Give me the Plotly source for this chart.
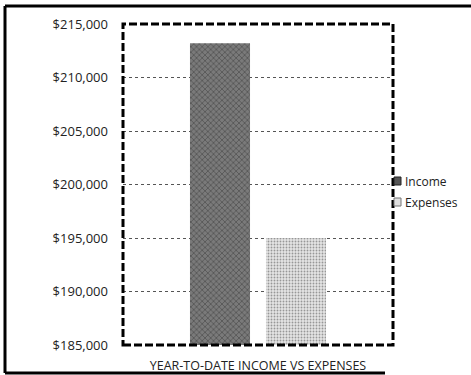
import plotly.graph_objects as go

categories = ["YEAR-TO-DATE INCOME VS EXPENSES"]
series_names = ["Income", "Expenses"]
income_values = [213200]
expenses_values = [195000]
y_ticks = [185000, 190000, 195000, 200000, 205000, 210000, 215000]

W, H = 471, 375
L, R, T, B = 123, 78, 24, 30
pw, ph = W - L - R, H - T - B

def px_x(p):
    return (p - L) / pw

def px_y(q):
    return (H - B - q) / ph

FONT = "Open Sans"

fig = go.Figure()
fig.add_trace(go.Bar(
    x=categories, y=income_values, name=series_names[0],
    marker=dict(color="#6a6a6a", line=dict(width=0),
                pattern=dict(shape="x", fgcolor="#2a2a2a", bgcolor="#7a7a7a", size=4, solidity=0.35)),
    showlegend=False,
))
fig.add_trace(go.Bar(
    x=categories, y=expenses_values, name=series_names[1],
    marker=dict(color="#d8d8d8", line=dict(width=0),
                pattern=dict(shape=".", fgcolor="#4a4a4a", bgcolor="#e4e4e4", size=3, solidity=0.3)),
    showlegend=False,
))

frame = dict(color="black", width=3)
shapes = [
    # outer frame (left, top, bottom)
    dict(type="line", xref="paper", yref="paper", x0=px_x(5), x1=px_x(5), y0=px_y(373), y1=px_y(6),
         line=frame, layer="above"),
    dict(type="line", xref="paper", yref="paper", x0=px_x(5), x1=px_x(471), y0=px_y(6), y1=px_y(6),
         line=frame, layer="above"),
    dict(type="line", xref="paper", yref="paper", x0=px_x(5), x1=px_x(385), y0=px_y(373), y1=px_y(373),
         line=frame, layer="above"),
    # dashed plot-area border
    dict(type="rect", xref="paper", yref="paper", x0=0, x1=1, y0=0, y1=1,
         line=dict(color="black", width=3, dash="8px,3px"), layer="above"),
]
annotations = []
legend_cols = [("#555555", "#222222"), ("#e0e0e0", "#777777")]
for i, name in enumerate(series_names):
    cy = 181 + 21 * i
    fill, border = legend_cols[i]
    shapes.append(dict(type="rect", xref="paper", yref="paper",
                       x0=px_x(394), x1=px_x(401), y0=px_y(cy + 4), y1=px_y(cy - 4),
                       fillcolor=fill, line=dict(color=border, width=1), layer="above"))
    annotations.append(dict(text=name, xref="paper", yref="paper",
                            x=px_x(403), y=px_y(cy), xanchor="left", yanchor="middle",
                            showarrow=False, font=dict(size=12, color="#222", family=FONT)))

fig.update_layout(
    width=W, height=H,
    margin=dict(l=L, r=R, t=T, b=B, pad=0, autoexpand=False),
    paper_bgcolor="white", plot_bgcolor="white",
    barmode="group", bargap=0.437, bargroupgap=0.21,
    font=dict(family=FONT, size=12, color="#222"),
    shapes=shapes, annotations=annotations,
    xaxis=dict(showgrid=False, zeroline=False, showline=False, ticks="", automargin=False,
               tickfont=dict(size=12.5, family=FONT), ticklabelstandoff=11),
    yaxis=dict(range=[185000, 215000], tickvals=y_ticks, tickformat="$,.0f", automargin=False,
               showgrid=True, gridcolor="#555", gridwidth=1, griddash="dot",
               zeroline=False, showline=False, ticks="",
               tickfont=dict(size=13, family=FONT), ticklabelstandoff=14),
)

fig.write_html(
    "out.html",
    config={"displayModeBar": False},
    post_script="document.documentElement.style.overflow='hidden';document.body.style.overflow='hidden';document.body.style.margin='0';",
)
